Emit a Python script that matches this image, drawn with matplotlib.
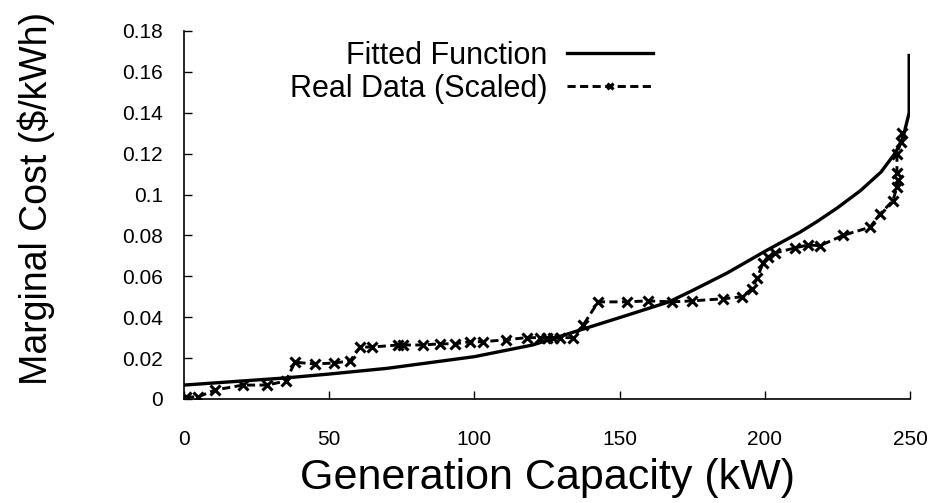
import matplotlib
matplotlib.use("Agg")
import matplotlib.pyplot as plt

plt.rcParams['font.family'] = ['Liberation Sans', 'DejaVu Sans']

# fitted curve
fit_x = [0, 10, 20, 35, 50, 70, 100, 120, 137, 150, 167, 175, 187, 200, 212,
         218, 225, 233, 240, 245, 247.6, 249.7, 249.7]
fit_y = [0.0068, 0.0078, 0.0088, 0.0103, 0.0122, 0.015, 0.0207, 0.0264, 0.034,
         0.0398, 0.0475, 0.053, 0.0616, 0.0722, 0.0815, 0.0868, 0.0935, 0.1020,
         0.1110, 0.1205, 0.128, 0.140, 0.168]

# real data (scaled)
real_x = [0.7, 4.8, 10.7, 20.3, 28.6, 35.1, 38.2, 45.1, 51.7, 57.2, 60.6, 64.7,
          73.7, 75.4, 82.3, 88.2, 93.3, 98.5, 103, 111, 118, 122.6, 125, 127,
          129.5, 134, 137.4, 142.6, 152.5, 159.8, 168, 175, 185.6, 192.1, 195.6,
          197.3, 199.4, 201, 203.5, 210.4, 214.9, 219, 226.9, 236.2, 239.7,
          244.1, 245.5, 245.9, 245.5, 245.5, 246.9, 247.2]
real_y = [0.001, 0.001, 0.0044, 0.0068, 0.0068, 0.0088, 0.018, 0.0171, 0.0176,
          0.0186, 0.0254, 0.0254, 0.0264, 0.0264, 0.0264, 0.027, 0.027, 0.028,
          0.028, 0.029, 0.030, 0.030, 0.030, 0.030, 0.030, 0.030, 0.036, 0.0475,
          0.0475, 0.048, 0.0475, 0.048, 0.049, 0.050, 0.054, 0.059, 0.0665,
          0.0695, 0.0714, 0.0739, 0.0753, 0.075, 0.080, 0.084, 0.0905, 0.097,
          0.1037, 0.107, 0.1105, 0.120, 0.1257, 0.130]

x_ticks = [0, 50, 100, 150, 200, 250]
y_ticks = [0, 0.02, 0.04, 0.06, 0.08, 0.1, 0.12, 0.14, 0.16, 0.18]

fig = plt.figure(figsize=(9.35, 5.03), dpi=100)
ax = fig.add_axes([0.1968, 0.2068, 0.7765, 0.7316])

ax.plot(fit_x, fit_y, color='black', lw=2.4, label='Fitted Function')
ax.plot(real_x, real_y, color='black', lw=2.1, linestyle=(0, (2.8, 1.5)),
        marker='x', ms=7.5, mew=2.2, label='Real Data (Scaled)')

ax.set_xlim(0, 250)
ax.set_ylim(0, 0.18)
ax.set_xticks(x_ticks)
ax.set_yticks(y_ticks)
ax.set_yticklabels(['%g' % v for v in y_ticks])
ax.tick_params(direction='in', length=6, width=1, labelsize=15)
ax.tick_params(axis='x', pad=22)
ax.tick_params(axis='y', pad=15)
for s in ['top', 'right']:
    ax.spines[s].set_visible(False)
for s in ['left', 'bottom']:
    ax.spines[s].set_linewidth(1.2)

ax.set_xlabel('Generation Capacity (kW)', fontsize=31)
ax.xaxis.set_label_coords(0.5, -0.16)
ax.set_ylabel('Marginal Cost ($/kWh)', fontsize=27)
ax.yaxis.set_label_coords(-0.178, 0.546)

ax.legend(loc='upper right', bbox_to_anchor=(0.646, 0.973), frameon=False,
          markerfirst=False, numpoints=1, fontsize=22, handlelength=2.8,
          handletextpad=0.65, labelspacing=0.1, borderpad=0, borderaxespad=0,
          markerscale=0.6)

fig.savefig('out.png', dpi=100)
